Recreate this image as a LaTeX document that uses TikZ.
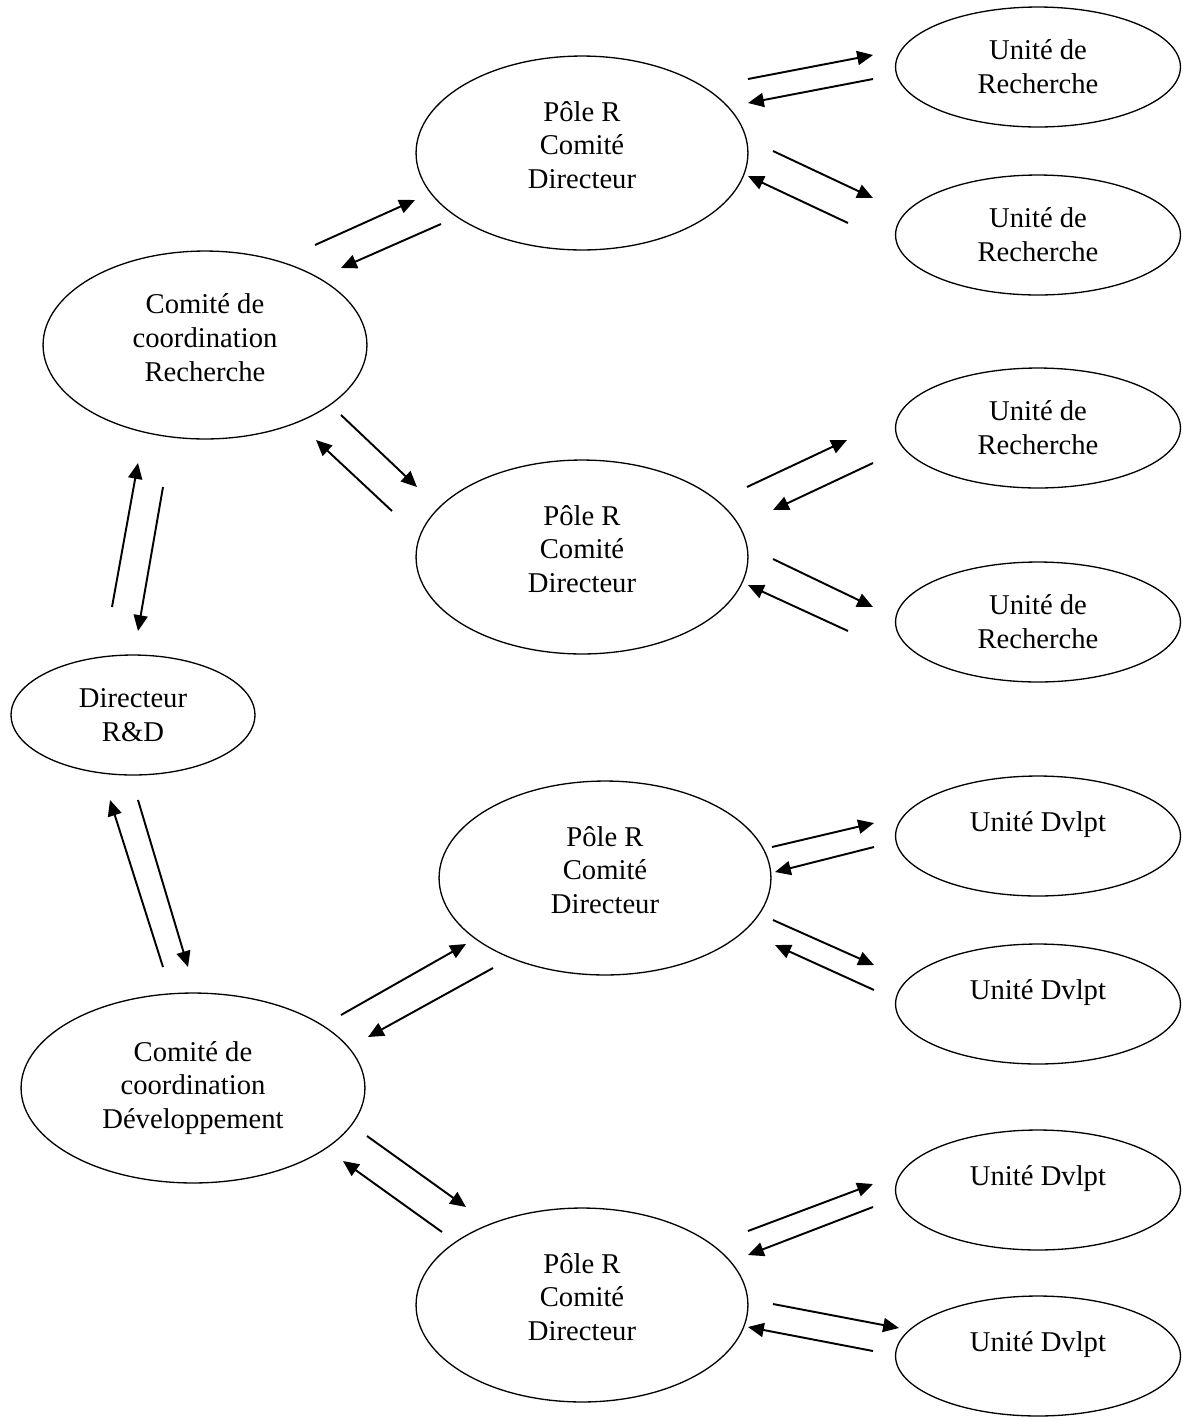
\documentclass[tikz,border=0pt]{standalone}
\usepackage{fontspec}
\setmainfont{Liberation Serif}
\usetikzlibrary{shapes.geometric,arrows.meta}
% invisible depth that lifts a text block inside its ellipse
\newcommand\dropby[1]{\rule[-#1]{0pt}{0pt}}
\begin{document}
\begin{tikzpicture}[x=0.02cm,y=-0.02cm,
  bubble/.style 2 args={ellipse,draw,line width=0.75pt,inner sep=0pt,
    minimum width=#1*0.04cm,minimum height=#2*0.04cm,align=center,
    font=\fontsize{16.3}{19.3}\selectfont},
  pole/.style={bubble={166}{97}},
  unit/.style={bubble={142.5}{60}},
  link/.style={line width=1.1pt,-{Triangle[length=9pt,width=8pt]}}]
\fill[white] (0,0) rectangle (1183,1421);
\useasboundingbox (0,0) rectangle (1183,1421);

% top level and coordination committees
\node[bubble={122}{60}] (dir) at (133,715) {Directeur\\R\&D};
\node[bubble={162}{94}] (cr) at (205,345) {Comité de\\coordination\\Recherche\dropby{0.3cm}};
\node[bubble={172}{95}] (cd) at (193,1088) {Comité de\\coordination\\Développement};

% steering committees of the poles
\node[pole] (p1) at (582,153) {Pôle R\\Comité\\Directeur\dropby{0.32cm}};
\node[pole] (p2) at (582,557) {Pôle R\\Comité\\Directeur\dropby{0.32cm}};
\node[pole] (p3) at (605,878) {Pôle R\\Comité\\Directeur\dropby{0.32cm}};
\node[pole] (p4) at (582,1305) {Pôle R\\Comité\\Directeur\dropby{0.32cm}};

% research and development units
\node[unit] (u1) at (1038,67) {Unité de\\Recherche};
\node[unit] (u2) at (1038,235) {Unité de\\Recherche};
\node[unit] (u3) at (1038,428) {Unité de\\Recherche};
\node[unit] (u4) at (1038,622) {Unité de\\Recherche};
\node[unit] (u5) at (1038,836) {Unité Dvlpt\dropby{0.56cm}};
\node[unit] (u6) at (1038,1004) {Unité Dvlpt\dropby{0.56cm}};
\node[unit] (u7) at (1038,1190) {Unité Dvlpt\dropby{0.56cm}};
\node[unit] (u8) at (1038,1356) {Unité Dvlpt\dropby{0.56cm}};

% end points of the two-way arrow pairs between the ellipses
\foreach \n/\a/\b/\c/\d in {
  1/315/245/415/200, 2/441/224/341/268,
  3/748/79/873/55, 4/873/79/748/103,
  5/773/151/873/198, 6/848/223/748/176,
  7/341/415/417/487, 8/392/511/316/440,
  9/112/607/138/463, 10/163/487/138/631,
  11/747/487/847/440, 12/873/463/773/510,
  13/773/559/873/607, 14/848/631/748/585,
  15/163/967/110/800, 16/138/800/188/967,
  17/772/847/874/823, 18/874/847/775/872,
  19/773/920/874/965, 20/874/990/775/945,
  21/341/1015/466/944, 22/493/968/368/1037,
  23/367/1136/466/1207, 24/442/1232/343/1161,
  25/748/1231/873/1184, 26/873/1207/748/1255,
  27/773/1304/899/1328, 28/873/1351/748/1327}
{\coordinate (s\n) at (\a,\b); \coordinate (e\n) at (\c,\d);}

\foreach \n in {1,...,28} \draw[link] (s\n) -- (e\n);
\end{tikzpicture}
\end{document}
